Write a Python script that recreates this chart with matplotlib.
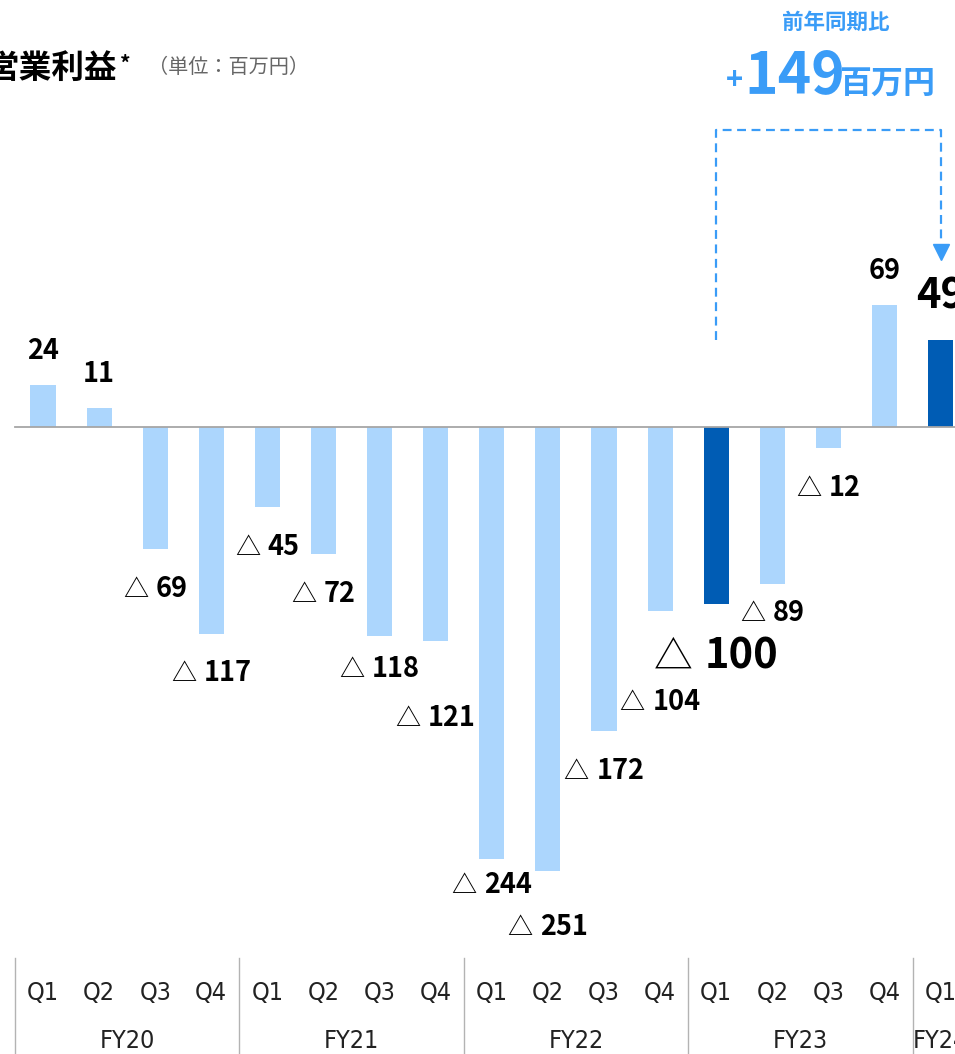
import matplotlib
matplotlib.use("Agg")
import matplotlib.pyplot as plt
import matplotlib.transforms as mtransforms
from matplotlib import font_manager
from matplotlib.offsetbox import TextArea, HPacker, AnnotationBbox

plt.rcParams['font.family'] = ['Noto Sans CJK JP', 'DejaVu Sans']

# data (百万円)
years = ['FY20', 'FY21', 'FY22', 'FY23', 'FY24']
quarters = ['Q1', 'Q2', 'Q3', 'Q4'] * 4 + ['Q1']
year_of_bar = [0] * 4 + [1] * 4 + [2] * 4 + [3] * 4 + [4]
profit = [24, 11, -69, -117, -45, -72, -118, -121, -244, -251, -172, -104, -100, -89, -12, 69, 49]
highlight = [12, 16]        # FY23 Q1 and FY24 Q1
yoy_change = 149

# label offsets in px from bar end (hand-placed in the original to avoid overlap)
label_off = [34, 34, 40, 39, 40, 40, 33, 77, 26, 56, 40, 91, 53, 29, 40, 34, 44]

LIGHT = '#acd6fd'
DARK = '#005cb4'
ACCENT = '#3a9cf7'

# condensed face for the category axis, if there is one
axis_font = dict(family='DejaVu Sans')
for fam, st in [('Liberation Sans Narrow', 'normal'), ('DejaVu Sans', 'condensed')]:
    try:
        path = font_manager.findfont(font_manager.FontProperties(family=fam, stretch=st),
                                     fallback_to_default=False)
        if 'Narrow' in path or 'Condensed' in path:
            axis_font = dict(fname=path)
            break
    except Exception:
        pass
if 'fname' in axis_font:
    axis_fp = font_manager.FontProperties(fname=axis_font['fname'], size=18)
else:
    axis_fp = font_manager.FontProperties(family='DejaVu Sans', size=16)

W, H = 955, 1054
fig = plt.figure(figsize=(W / 100, H / 100), dpi=100)
ax = fig.add_axes([0, 0, 1, 1])
ax.set_axis_off()

step = 56.1
px_per_unit = 1.769
ax.set_xlim(-43 / step, (W - 43) / step)
ax.set_ylim(-(H - 427) / px_per_unit, 427 / px_per_unit)

xs = list(range(len(profit)))
colors = [DARK if i in highlight else LIGHT for i in xs]
ax.bar(xs, profit, width=0.446, color=colors, zorder=2)
ax.axhline(0, xmin=15 / W, color='#a6a6a6', lw=1.3, zorder=3)

px2pt = 72 / 100
for i, v in enumerate(profit):
    big = i in highlight
    fs = 30 if big else 19.5
    off = label_off[i] * px2pt
    if v >= 0:
        ax.annotate(str(v), (i, v), xytext=(0, off), textcoords='offset points',
                    ha='center', va='center', fontsize=fs, fontweight='bold', color='black')
    else:
        tri = TextArea('△', textprops=dict(fontsize=fs * 0.93, color='black'))
        num = TextArea(str(-v), textprops=dict(fontsize=fs, fontweight='bold', color='black'))
        box = HPacker(children=[tri, num], align='baseline', pad=0, sep=fs * 0.28)
        ab = AnnotationBbox(box, (i, v), xybox=(0, -off), boxcoords='offset points',
                            frameon=False, box_alignment=(0.5, 0.5), pad=0)
        ax.add_artist(ab)

# category axis below
trans = mtransforms.blended_transform_factory(ax.transData, ax.transAxes)
for i, q in enumerate(quarters):
    ax.text(i, 1 - 993 / H, q, transform=trans, ha='center', va='center',
            fontproperties=axis_fp, color='#222222')
for k, y in enumerate(years):
    idx = [i for i in xs if year_of_bar[i] == k]
    ax.text(sum(idx) / len(idx), 1 - 1041 / H, y, transform=trans, ha='center', va='center',
            fontproperties=axis_fp, color='#222222')
    ax.plot([idx[0] - 0.5] * 2, [0, 1 - 958 / H], transform=trans,
            color='#b3b3b3', lw=1, clip_on=False)

# year-over-year bracket between FY23 Q1 and FY24 Q1
a, b = highlight
top = 168
ax.plot([a, a, b, b], [profit[b], top, top, 104], color=ACCENT, lw=1.6,
        linestyle=(0, (4, 2.5)), zorder=4)
ax.plot([b], [99], marker='v', markersize=11, color=ACCENT, zorder=4)

# titles
fig.text(-14 / W, 1 - 68 / H, '営業利益', fontsize=23.5, fontweight='bold', va='center', ha='left')
fig.text(120 / W, 1 - 64 / H, '*', fontsize=15, fontweight='bold', va='center', ha='left')
fig.text(148 / W, 1 - 68 / H, '（単位：百万円）', fontsize=14.5, color='#666666',
         va='center', ha='left')

fig.text(836 / W, 1 - 22 / H, '前年同期比', fontsize=15.5, fontweight='bold', color=ACCENT,
         ha='center', va='center')
base = 1 - 93 / H
fig.text(743 / W, base + 4 / H, '+', fontsize=21, fontweight='bold', color=ACCENT,
         ha='right', va='baseline')
fig.text(744 / W, base, str(yoy_change), fontsize=41, fontweight='bold', color=ACCENT,
         ha='left', va='baseline')
fig.text(839 / W, base, '百万円', fontsize=23, fontweight='bold', color=ACCENT,
         ha='left', va='baseline')

fig.savefig('out.png', dpi=100)
